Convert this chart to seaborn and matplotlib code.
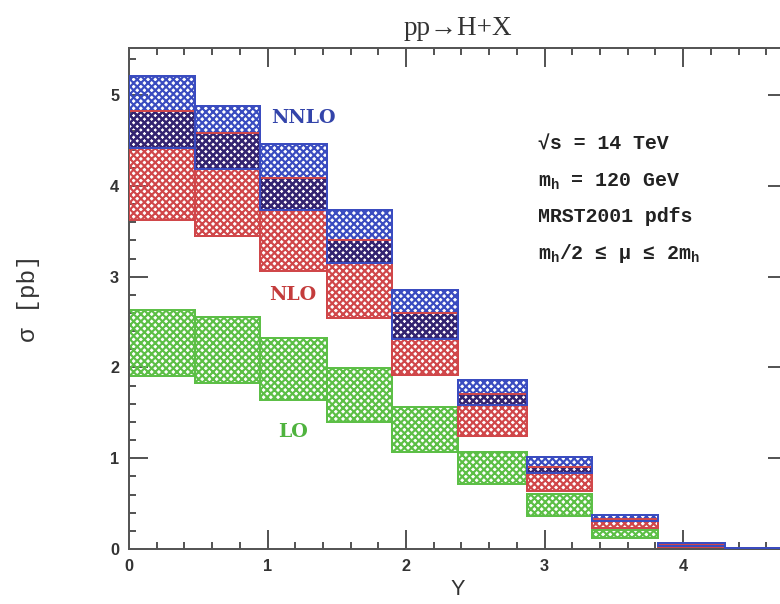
import numpy as np
import matplotlib
matplotlib.use("Agg")
import matplotlib.pyplot as plt
from matplotlib.ticker import MultipleLocator
import seaborn as sns

# ---------------- data ----------------
bin_edges = [0.0, 0.477, 0.946, 1.43, 1.90, 2.375, 2.87, 3.34, 3.82, 4.30, 4.78]

lo_low   = [1.91, 1.83, 1.64, 1.40, 1.07, 0.72, 0.36, 0.12, 0.00, 0.000]
lo_high  = [2.63, 2.56, 2.33, 1.99, 1.57, 1.07, 0.61, 0.21, 0.03, 0.005]

nlo_low  = [3.63, 3.45, 3.06, 2.54, 1.92, 1.24, 0.64, 0.23, 0.02, 0.003]
nlo_high = [4.83, 4.58, 4.09, 3.41, 2.60, 1.71, 0.90, 0.33, 0.06, 0.012]

nnlo_low  = [4.42, 4.19, 3.73, 3.15, 2.31, 1.59, 0.84, 0.31, 0.03, 0.005]
nnlo_high = [5.21, 4.88, 4.46, 3.74, 2.85, 1.86, 1.01, 0.37, 0.07, 0.015]

title = "pp\u2192H+X"
xlabel = "Y"
ylabel = "\u03c3 [pb]"
info_lines = ["\u221as = 14 TeV",
              r"m$_\mathrm{h}$ = 120 GeV",
              "MRST2001 pdfs",
              "m$_\\mathrm{h}$/2 \u2264 \u03bc \u2264 2m$_\\mathrm{h}$"]

# ---------------- style ----------------
sns.set_style("ticks")
plt.rcParams["font.family"] = ["DejaVu Serif", "DejaVu Sans"]
plt.rcParams["mathtext.fontset"] = "custom"
plt.rcParams["mathtext.rm"] = "Liberation Mono:bold"
plt.rcParams["mathtext.it"] = "Liberation Mono:italic:bold"
plt.rcParams["mathtext.bf"] = "Liberation Mono:bold"
plt.rcParams["hatch.linewidth"] = 1.2

BLUE = "#3a4cc0"
RED = "#d0474a"
GREEN = "#5cbf46"
PURPLE = "#33246f"
AXC = "#555555"
HATCH = "xxxxxx"

DPI = 130
fig = plt.figure(figsize=(780 / DPI, 604 / DPI), dpi=DPI)
ax = fig.add_axes([129 / 780, 55 / 604, (787 - 129) / 780, (549 - 48) / 604])

edges = np.asarray(bin_edges)
left = edges[:-1]
width = np.diff(edges)

def band(low, high, color, lw=1.1, hatch=HATCH, z=2):
    low = np.asarray(low)
    high = np.asarray(high)
    return ax.bar(left, high - low, bottom=low, width=width, align="edge",
                  facecolor="none", edgecolor=color,
                  hatch=hatch, linewidth=lw, zorder=z)

# LO
band(lo_low, lo_high, GREEN, z=2)
# NLO and NNLO hatched bands
band(nlo_low, nlo_high, RED, z=3)
band(nnlo_low, nnlo_high, BLUE, z=4)
# overlap of NLO and NNLO
ov_low = np.maximum(nlo_low, nnlo_low)
ov_high = np.minimum(nlo_high, nnlo_high)
ax.bar(left, ov_high - ov_low, bottom=ov_low, width=width, align="edge",
       facecolor="none", edgecolor=PURPLE, hatch=HATCH, linewidth=0, zorder=5)
# outlines on top
band(nlo_low, nlo_high, RED, hatch=None, z=6)
band(nnlo_low, nnlo_high, BLUE, hatch=None, z=7)

# ---------------- axes ----------------
ax.set_xlim(0, 4.75)
ax.set_ylim(0, 5.52)
ax.xaxis.set_major_locator(MultipleLocator(1))
ax.xaxis.set_minor_locator(MultipleLocator(0.2))
ax.yaxis.set_major_locator(MultipleLocator(1))
ax.yaxis.set_minor_locator(MultipleLocator(0.2))
ax.tick_params(which="both", direction="in", top=True, right=True,
               color=AXC, width=1.1, labelcolor="#333333")
ax.tick_params(which="major", length=10.5, pad=5.5)
ax.tick_params(which="minor", length=3.9)
for lab in ax.get_xticklabels() + ax.get_yticklabels():
    lab.set_family("Liberation Sans")
    lab.set_fontweight("bold")
    lab.set_fontsize(9)
for sp in ax.spines.values():
    sp.set_color(AXC)
    sp.set_linewidth(1.1)
    sp.set_visible(True)

ax.set_title(title, family="Liberation Serif", fontsize=15, color="#333333", pad=7)
ax.set_xlabel(xlabel, family="Liberation Sans", fontsize=12, color="#333333", labelpad=3)
ax.set_ylabel(ylabel, family="Liberation Mono", fontsize=13.5, color="#333333",
              labelpad=39)

ax.text(1.256, 4.75, "NNLO", color="#3344aa", fontsize=10.5, fontweight="bold",
        ha="center", va="center", zorder=10)
ax.text(1.184, 2.80, "NLO", color="#c43c3c", fontsize=10.5, fontweight="bold",
        ha="center", va="center", zorder=10)
ax.text(1.184, 1.29, "LO", color="#4fb33e", fontsize=10.5, fontweight="bold",
        ha="center", va="center", zorder=10)

info_y = [4.40, 3.99, 3.60, 3.19]
for yy, txt in zip(info_y, info_lines):
    ax.text(2.953, yy, txt, family="Liberation Mono", fontweight="bold",
            fontsize=11, color="#222222", ha="left", va="baseline", zorder=10)

fig.savefig("out.png", dpi=DPI)
